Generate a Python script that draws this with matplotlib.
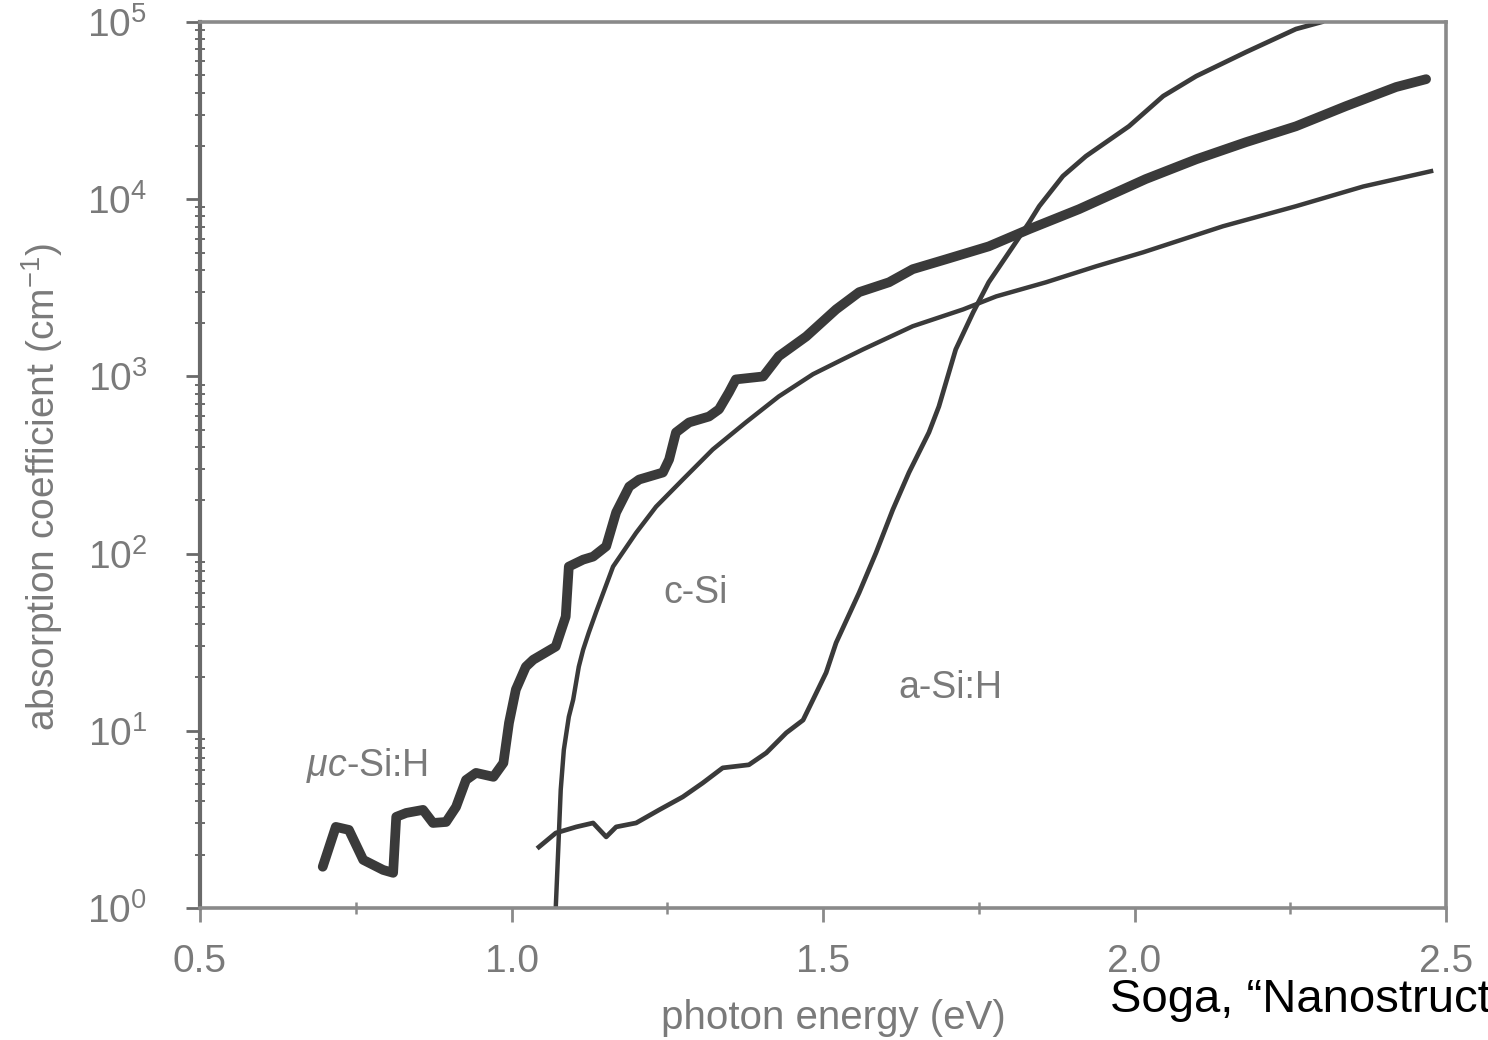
import matplotlib
matplotlib.use("Agg")
import matplotlib.pyplot as plt
from matplotlib.ticker import FixedLocator, LogLocator, NullFormatter

plt.rcParams['font.family'] = ['Liberation Sans', 'DejaVu Sans']
plt.rcParams['mathtext.fontset'] = 'custom'
plt.rcParams['mathtext.rm'] = 'Liberation Sans'
plt.rcParams['mathtext.it'] = 'Liberation Sans:italic'
plt.rcParams['mathtext.bf'] = 'Liberation Sans:bold'

# ---- data (photon energy in eV, absorption coefficient in cm^-1) ----
muc_energy = [0.697, 0.718, 0.739, 0.762, 0.794, 0.810, 0.815, 0.831, 0.858, 0.874,
              0.895, 0.911, 0.927, 0.943, 0.971, 0.987, 0.996, 1.007, 1.023, 1.035,
              1.071, 1.087, 1.092, 1.115, 1.131, 1.152, 1.168, 1.189, 1.205, 1.243,
              1.253, 1.264, 1.285, 1.317, 1.333, 1.349, 1.360, 1.404, 1.429, 1.473,
              1.521, 1.558, 1.606, 1.644, 1.697, 1.766, 1.831, 1.911, 2.018, 2.099,
              2.179, 2.259, 2.339, 2.420, 2.468]
muc_alpha = [1.71, 2.87, 2.76, 1.87, 1.64, 1.58, 3.27, 3.44, 3.58, 3.02,
             3.06, 3.72, 5.28, 5.79, 5.50, 6.59, 11.1, 17.1, 23.0, 25.2,
             29.9, 44.1, 84.5, 92.5, 96.2, 110, 171, 239, 262, 287,
             340, 483, 550, 594, 652, 813, 962, 1000, 1300, 1680,
             2390, 2990, 3400, 4030, 4580, 5420, 6780, 8790, 13000, 16800,
             21000, 25800, 33500, 43000, 47600]

csi_energy = [1.071, 1.075, 1.079, 1.084, 1.092, 1.099, 1.108, 1.115, 1.124, 1.136,
              1.163, 1.200, 1.232, 1.275, 1.323, 1.376, 1.429, 1.484, 1.532, 1.564,
              1.644, 1.725, 1.778, 1.858, 1.938, 2.014, 2.142, 2.259, 2.367, 2.476]
csi_alpha = [1.0, 2.13, 4.64, 7.81, 12.0, 15.0, 23.0, 28.7, 35.8, 47.0,
             84.5, 131, 184, 262, 387, 550, 771, 1030, 1250, 1420,
             1920, 2390, 2830, 3400, 4180, 5020, 7040, 9130, 11800, 14400]

asi_energy = [1.044, 1.071, 1.104, 1.131, 1.152, 1.168, 1.200, 1.237, 1.275, 1.307,
              1.339, 1.381, 1.409, 1.441, 1.468, 1.484, 1.505, 1.521, 1.558, 1.585,
              1.612, 1.638, 1.670, 1.686, 1.713, 1.741, 1.766, 1.805, 1.831, 1.847,
              1.885, 1.922, 1.991, 2.046, 2.099, 2.179, 2.259, 2.300]
asi_alpha = [2.21, 2.65, 2.87, 3.02, 2.52, 2.87, 3.02, 3.58, 4.24, 5.08,
             6.18, 6.43, 7.51, 9.74, 11.5, 15.0, 21.3, 31.4, 60.2, 101,
             177, 287, 483, 677, 1420, 2300, 3400, 5420, 7410, 9130,
             13500, 17500, 25800, 38200, 49500, 67700, 91300, 100000]

x_ticks = [0.5, 1.0, 1.5, 2.0, 2.5]
x_tick_labels = ['0.5', '1.0', '1.5', '2.0', '2.5']
y_ticks = [1, 10, 100, 1000, 10000, 100000]
y_tick_labels = [r'$10^{0}$', r'$10^{1}$', r'$10^{2}$', r'$10^{3}$', r'$10^{4}$', r'$10^{5}$']

curve_labels = [r'$\mu c$-Si:H', 'c-Si', 'a-Si:H']
label_energy = [0.768, 1.295, 1.704]
label_alpha = [6.4, 60, 17.5]

# ---- figure ----
fig = plt.figure(figsize=(14.88, 10.4), dpi=100)
ax = fig.add_axes([0.1344, 0.1269, 0.8374, 0.8519])

line_col = '#3a3a3a'
text_col = '#7a7a7a'
spine_col = '#8a8a8a'

ax.plot(muc_energy, muc_alpha, color=line_col, lw=7, solid_joinstyle='round',
        solid_capstyle='round')
ax.plot(csi_energy, csi_alpha, color=line_col, lw=3.2, solid_joinstyle='round')
ax.plot(asi_energy, asi_alpha, color=line_col, lw=3.4, solid_joinstyle='round')

ax.set_yscale('log')
ax.set_xlim(0.5, 2.5)
ax.set_ylim(1, 1e5)

ax.xaxis.set_major_locator(FixedLocator(x_ticks))
ax.set_xticklabels(x_tick_labels)
ax.xaxis.set_minor_locator(FixedLocator([0.75, 1.25, 1.75, 2.25]))
ax.yaxis.set_major_locator(FixedLocator(y_ticks))
ax.set_yticklabels(y_tick_labels)
ax.yaxis.set_minor_locator(LogLocator(base=10, subs=range(2, 10)))
ax.yaxis.set_minor_formatter(NullFormatter())

ax.tick_params(axis='x', which='major', direction='out', length=10, width=2,
               color=spine_col, labelsize=28, labelcolor=text_col, pad=16)
ax.tick_params(axis='x', which='minor', direction='inout', length=8, width=1.8,
               color=spine_col)
ax.tick_params(axis='y', which='major', direction='out', length=10, width=2,
               color='#6a6a6a', labelsize=28, labelcolor=text_col, pad=28)
ax.tick_params(axis='y', which='minor', direction='inout', length=7, width=1.4,
               color='#6a6a6a')
ax.tick_params(top=False, right=False, which='both')

for side in ['top', 'bottom', 'right']:
    ax.spines[side].set_color(spine_col)
    ax.spines[side].set_linewidth(2.6)
ax.spines['left'].set_color('#6a6a6a')
ax.spines['left'].set_linewidth(3.0)

ax.set_xlabel('photon energy (eV)', fontsize=29, color=text_col)
ax.xaxis.set_label_coords(0.508, -0.103)
ax.set_ylabel(r'absorption coefficient (cm$^{-1}$)', fontsize=28, color=text_col)
ax.yaxis.set_label_coords(-0.108, 0.475)

for lbl, xe, ya in zip(curve_labels, label_energy, label_alpha):
    ax.text(xe, ya, lbl, fontsize=27, color=text_col, ha='center', va='center')

fig.text(1110 / 1488, 1 - 1012 / 1040, 'Soga, \u201cNanostruct', fontsize=34,
         color='black', ha='left', va='baseline')

fig.savefig('out.png', dpi=100, facecolor='white')
